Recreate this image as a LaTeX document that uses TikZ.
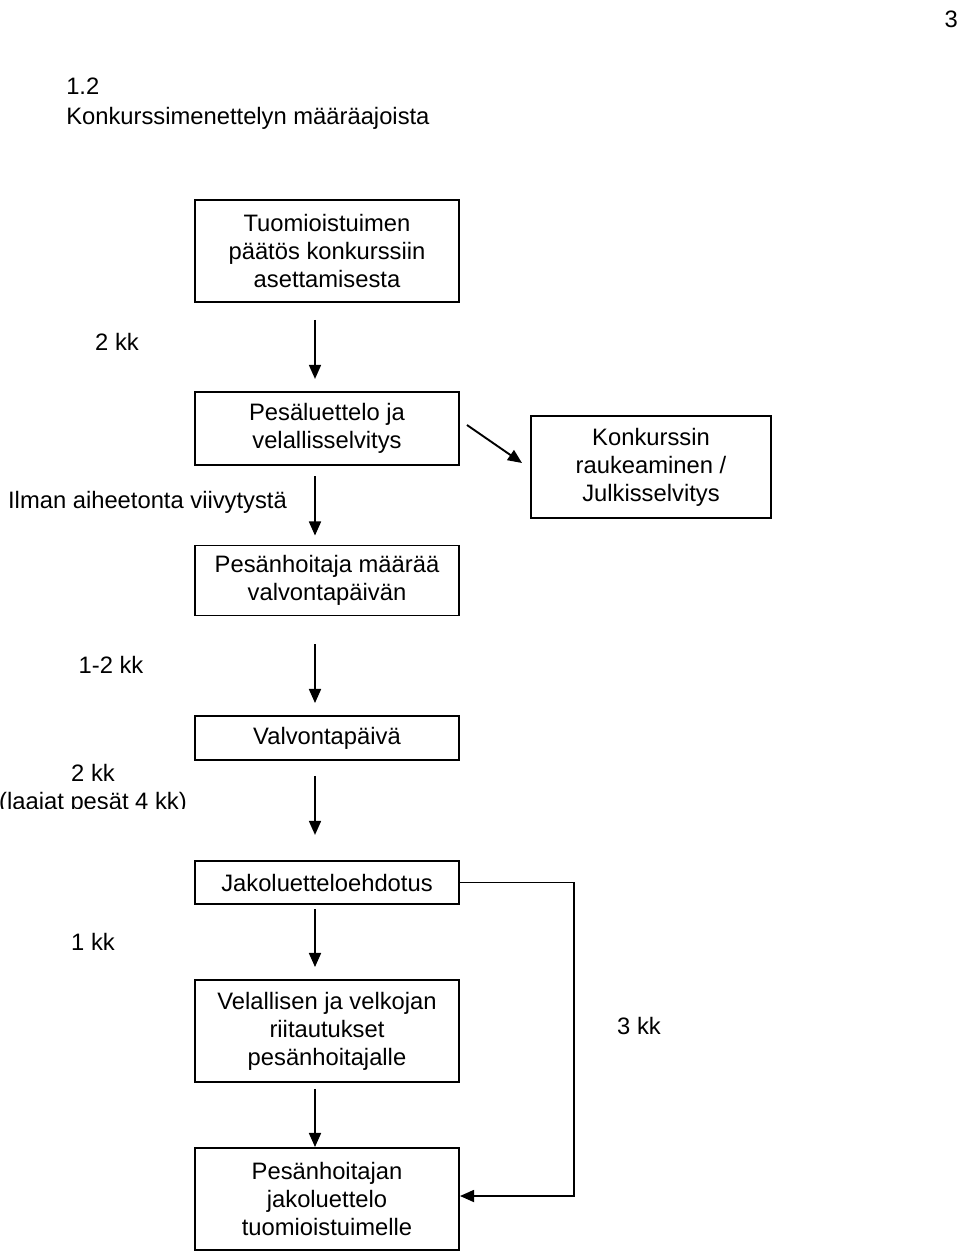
\documentclass[tikz,border=0pt]{standalone}
\usepackage{fontspec}
\setmainfont{Liberation Sans}
\usepackage{tikz}
\usetikzlibrary{arrows.meta,positioning,calc}
\tikzset{
  stage/.style={draw,line width=1.35pt,align=center,inner sep=0pt,minimum width=6.6cm},
  flow/.style={-{Triangle[width=8.5pt,length=10pt]},line width=1.35pt},
  term/.style={anchor=base,inner sep=0pt}
}

\begin{document}
\begin{tikzpicture}[x=0.025cm,y=-0.025cm,font=\fontsize{16.9}{19.9}\selectfont]
  \useasboundingbox (0,0) rectangle (960,1252);

  % heading
  \node[term,anchor=base east] (page) at (958,27) {3};
  \node[term,anchor=base west] (num) at (66,94) {1.2};
  \node[term,anchor=base west] (title) at (66,124) {Konkurssimenettelyn määräajoista};

  % stages
  \node[stage,minimum height=2.55cm] (tuom) at (327,251) {Tuomioistuimen\\päätös konkurssiin\\asettamisesta};
  \node[stage,minimum height=1.83cm] (pesal) at (327,428.5) {Pesäluettelo ja\\velallisselvitys};
  \node[stage,minimum width=6cm,minimum height=2.55cm] (konk) at (651,467) {Konkurssin\\raukeaminen /\\Julkisselvitys};
  \node[stage,minimum height=1.75cm] (pmaar) at (327,580.5) {Pesänhoitaja määrää\\valvontapäivän};
  \node[stage,minimum height=1.1cm] (valv) at (327,738) {Valvontapäivä};
  \node[stage,minimum height=1.08cm] (jako) at (327,882.5) {Jakoluetteloehdotus};
  \node[stage,minimum height=2.55cm] (riit) at (327,1031) {Velallisen ja velkojan\\riitautukset\\pesänhoitajalle};
  \node[stage,minimum height=2.55cm] (pesj) at (327,1199) {Pesänhoitajan\\jakoluettelo\\tuomioistuimelle};

  % time limits
  \node[term] (t1) at (117,350) {2 kk};
  \node[term] (t2) at (147.5,508) {Ilman aiheetonta viivytystä};
  \node[term] (t3) at (111,673) {1-2 kk};
  \node[term] (t4) at (93,781) {2 kk};
  \begin{scope}
    \clip (0,785) rectangle (200,808);
    \node[term] (t5) at (93,809) {(laajat pesät 4 kk)};
  \end{scope}
  \node[term] (t6) at (93,950) {1 kk};
  \node[term] (t7) at (639,1034) {3 kk};

  % arrows
  \draw[flow] ($(tuom.south)+(-12,17)$) -- ($(pesal.north)+(-12,-12)$);
  \draw[flow] ($(pesal.south)+(-12,10)$) -- ($(pmaar.north)+(-12,-9)$);
  \draw[flow] ($(pmaar.south)+(-12,28)$) -- ($(valv.north)+(-12,-12)$);
  \draw[flow] ($(valv.south)+(-12,15)$) -- ($(jako.north)+(-12,-25)$);
  \draw[flow] ($(jako.south)+(-12,4)$) -- ($(riit.north)+(-12,-12)$);
  \draw[flow] ($(riit.south)+(-12,6)$) -- ($(pesj.north)+(-12,0)$);
  \draw[flow] ($(pesal.east)+(7,-3.5)$) -- ($(konk.west)+(-8,-4)$);
  \draw[flow] (jako.east) -- ++(114,0) |- ($(pesj.east)+(0,-3)$);
\end{tikzpicture}
\end{document}
